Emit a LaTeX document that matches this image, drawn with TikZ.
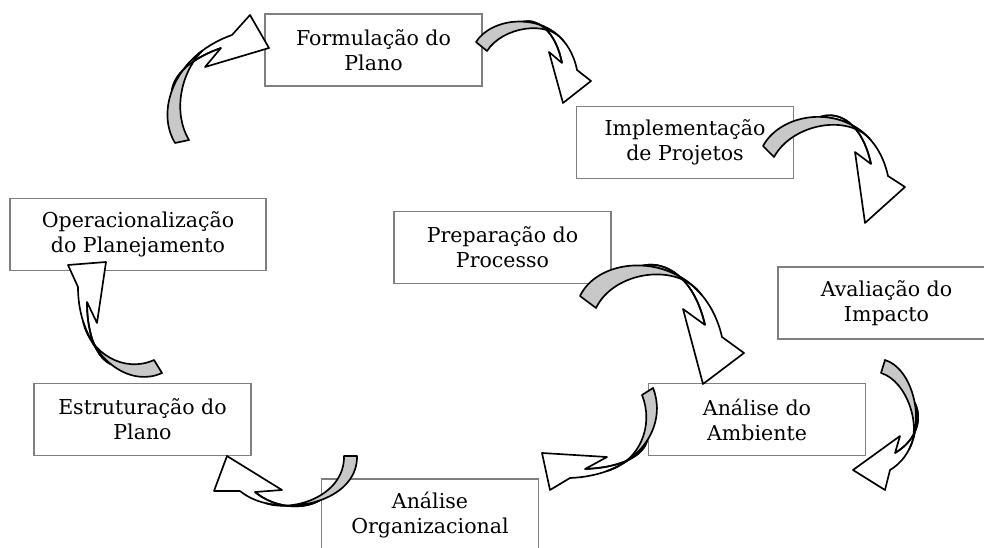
\documentclass[tikz,border=0pt]{standalone}
\usepackage{fontspec}
\setmainfont{DejaVu Serif}
\usetikzlibrary{calc}

\definecolor{boxgray}{HTML}{7F7F7F}
\definecolor{bandgray}{HTML}{C8C8C8}

\tikzset{
  stage/.style={draw=boxgray, line width=1.2pt, minimum width=162.75pt, minimum height=54pt,
    align=center, inner sep=0pt, font=\fontsize{15.4}{18.75}\selectfont},
  band/.style={draw=black, line width=1.25pt, line join=round}
}

% curved arrow: tail outer, tail inner, control 1, control 2,
% head outer, barb outer, tip, barb inner, head inner
\newcommand{\bentarrow}[9]{%
  \coordinate (t0) at #1; \coordinate (t1) at #2;
  \coordinate (k1) at #3; \coordinate (k2) at #4;
  \coordinate (h0) at #5; \coordinate (b0) at #6;
  \coordinate (tp) at #7; \coordinate (b1) at #8;
  \coordinate (h1) at #9;
  % gray part, split of the outer edge
  \coordinate (ga) at ($(t0)!0.8!(k1)$);
  \coordinate (gb) at ($(k1)!0.8!(k2)$);
  \coordinate (gc) at ($(k2)!0.8!(h0)$);
  \coordinate (gd) at ($(ga)!0.8!(gb)$);
  \coordinate (ge) at ($(gb)!0.8!(gc)$);
  \coordinate (gm) at ($(gd)!0.8!(ge)$);
  \coordinate (gi) at ($(ga)+(t1)-(t0)$);
  \coordinate (gj) at ($(gd)+(t1)-(t0)$);
  % white part
  \coordinate (wa) at ($(t0)!0.45!(k1)$);
  \coordinate (wb) at ($(k1)!0.45!(k2)$);
  \coordinate (wc) at ($(k2)!0.45!(h0)$);
  \coordinate (wd) at ($(wa)!0.45!(wb)$);
  \coordinate (we) at ($(wb)!0.45!(wc)$);
  \coordinate (wm) at ($(wd)!0.45!(we)$);
  \coordinate (wi) at ($(wc)+(h1)-(h0)$);
  \coordinate (wj) at ($(we)+(h1)-(h0)$);
  \filldraw[band, fill=white] (wm) .. controls (we) and (wc) .. (h0) -- (b0) -- (tp) -- (b1) -- (h1)
    .. controls (wi) and ($(we)!0.6!(wj)$) .. (wm) -- cycle;
  \filldraw[band, fill=bandgray] (t0) .. controls (ga) and (gd) .. (gm)
    .. controls ($(gd)!0.8!(gj)$) and (gi) .. (t1) -- cycle;
  \draw[band] (h1) .. controls (wi) and ($(we)!0.6!(wj)$) .. (wm);
}

\begin{document}
\begin{tikzpicture}[x=0.75pt,y=-0.75pt]
  \clip (0,0) rectangle (984,548);

  \node[stage] (form) at (373.5,50) {Formulação do\\Plano};
  \node[stage] (impl) at (685,142.5) {Implementação\\de Projetos};
  \node[stage] (prep) at (502.5,247.5) {Preparação do\\Processo};
  \node[stage] (aval) at (886.5,303) {Avaliação do\\Impacto};
  \node[stage] (ambi) at (757,419.5) {Análise do\\Ambiente};
  \node[stage] (orga) at (430,515) {Análise\\Organizacional};
  \node[stage] (estr) at (142.5,419.5) {Estruturação do\\Plano};
  \node[stage, minimum width=192pt] (oper) at (138,234.5) {Operacionalização\\do Planejamento};

  % form -> impl
  \bentarrow{(476,42)}{(487,51)}{(495,12)}{(565,10)}{(577,70)}{(591,81)}{(563,103)}{(549,52)}{(562,63)}
  % impl -> aval
  \bentarrow{(763,146)}{(774,157)}{(786,104)}{(872,102)}{(888,176)}{(905,187)}{(865,223)}{(855,152)}{(871,164)}
  % prep -> ambi
  \bentarrow{(580,296)}{(596,308)}{(602,250)}{(702,250)}{(722,337)}{(744,353)}{(703,384)}{(683,309)}{(705,325)}
  % ambi -> orga
  \bentarrow{(653,388)}{(642,395)}{(668,425)}{(640,475)}{(570,478)}{(550,490)}{(542,453)}{(607,457)}{(585,469)}
  % orga -> estr
  \bentarrow{(357,456)}{(344,456)}{(358,505)}{(275,520)}{(240,491)}{(214,491)}{(227,456)}{(282,490)}{(255,492)}
  % estr -> oper
  \bentarrow{(162,373)}{(154,360)}{(125,390)}{(78,350)}{(78,287)}{(68,265)}{(106,262)}{(97,323)}{(87,302)}
  % oper -> form
  \bentarrow{(175,143)}{(189,140)}{(155,110)}{(175,55)}{(232,35)}{(250,15)}{(269,48)}{(205,67)}{(221,48)}
  % aval -> ambi
  \bentarrow{(885,360)}{(881,373)}{(918,370)}{(932,445)}{(890,470)}{(885,490)}{(853,470)}{(900,436)}{(895,453)}
\end{tikzpicture}
\end{document}
